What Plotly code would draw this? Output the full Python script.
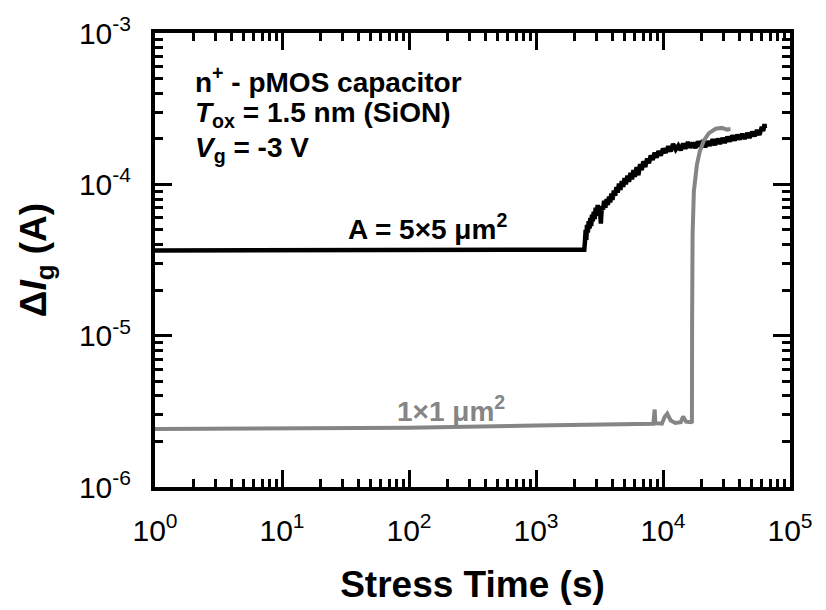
import plotly.graph_objects as go

# ---- data ----
t_5x5 = [1, 2350, 2400, 2430, 2460, 2490, 2520, 2560, 2600, 2640, 2680, 2720, 2760, 2800,
         2850, 2900, 2950, 3000, 3060, 3120, 3180, 3240, 3300, 3370, 3440, 3520, 3600, 3680,
         3760, 3840, 3920, 4000, 4100, 4200, 4300, 4400, 4500, 4620, 4740, 4860, 4980, 5100,
         5250, 5400, 5550, 5700, 5850, 6000, 6200, 6400, 6600, 6800, 7000, 7250, 7500, 7750,
         8000, 8300, 8600, 8900, 9200, 9600, 10000, 10500, 11000, 11500, 12000, 12600, 13200,
         13800, 14400, 15000, 15700, 16400, 17200, 18000, 18800, 19700, 20600, 21500, 22500,
         23500, 24600, 25700, 26900, 28100, 29400, 30700, 32100, 33600, 35100, 36700, 38400,
         40200, 42000, 44000, 46000, 48000, 50300, 52600, 55000, 57500, 60000, 61500, 63000, 63500]
ig_5x5_e5 = [3.66, 3.66, 3.70, 4.2, 5.0, 4.3, 5.4, 4.8, 5.7, 5.1, 6.0, 5.3, 6.3, 5.7,
             6.6, 5.9, 7.0, 6.2, 7.3, 6.5, 7.2, 5.5, 7.2, 6.8, 7.8, 7.0, 8.0, 7.3, 8.3, 7.6, 8.7, 7.9,
             9.1, 8.4, 9.6, 8.8, 10.1, 9.2, 10.5, 9.6, 11.0, 10.0,
             11.4, 10.4, 11.9, 10.8, 12.4, 11.2, 13.0, 11.5, 13.6, 12.4, 14.2,
             13.0, 14.8, 13.8, 15.5, 14.5, 16.2, 15.0, 16.6, 15.5, 17.2,
             16.2, 17.8, 16.5, 18.5, 17.0, 18.0, 16.8, 18.6, 17.2, 19.0,
             17.5, 18.8, 17.4, 19.2, 17.8, 19.5, 17.6, 19.2, 18.0, 19.8,
             18.2, 20.0, 18.5, 20.2, 18.8, 20.6, 19.2, 21.0, 19.5, 21.2,
             19.8, 21.5, 20.0, 21.8, 20.3, 22.2, 20.8, 22.8, 21.2, 24.0,
             22.5, 25.0, 23.5]
ig_5x5 = [v * 1e-5 for v in ig_5x5_e5]

t_1x1 = [1, 10, 100, 1000, 5000, 8400, 8600, 8700, 9800, 10300, 10800, 11500, 12500, 13800,
         14400, 15200, 16600, 16900, 16950, 17100, 17500, 18000, 18500, 19500, 21000, 23000,
         26000, 29000, 32000, 34000]
ig_1x1 = [2.42e-6, 2.43e-6, 2.46e-6, 2.55e-6, 2.60e-6, 2.62e-6, 3.25e-6, 2.64e-6, 2.62e-6,
          2.9e-6, 3.05e-6, 2.75e-6, 2.65e-6, 2.68e-6, 2.92e-6, 2.70e-6, 2.68e-6, 2.70e-6,
          1.2e-5, 4.7e-5, 9.0e-5, 1.12e-4, 1.35e-4, 1.65e-4, 1.95e-4, 2.18e-4, 2.33e-4,
          2.36e-4, 2.30e-4, 2.32e-4]

x_tickvals = [1, 10, 100, 1000, 10000, 100000]
x_ticktext = ["10<sup>0</sup>", "10<sup>1</sup>", "10<sup>2</sup>", "10<sup>3</sup>",
              "10<sup>4</sup>", "10<sup>5</sup>"]
y_tickvals = [1e-6, 1e-5, 1e-4, 1e-3]
y_ticktext = ["10<sup>-6</sup>", "10<sup>-5</sup>", "10<sup>-4</sup>", "10<sup>-3</sup>"]

x_minor = [m * 10 ** d for d in range(0, 5) for m in range(2, 10)]
y_minor = [m * 10.0 ** d for d in range(-6, -3) for m in range(2, 10)]

BLACK = "#000000"
GRAY = "#858585"
FONT = "Liberation Sans, Arial, sans-serif"

fig = go.Figure()
fig.add_trace(go.Scatter(x=t_5x5, y=ig_5x5, mode="lines",
                         line=dict(color=BLACK, width=4.5), showlegend=False))
fig.add_trace(go.Scatter(x=t_1x1, y=ig_1x1, mode="lines",
                         line=dict(color=GRAY, width=4), showlegend=False))

axis_common = dict(
    showline=True, linecolor="black", linewidth=4, mirror="ticks",
    ticks="inside", ticklen=17, tickwidth=2.5, tickcolor="black",
    showgrid=False, zeroline=False,
    tickfont=dict(family=FONT, size=30, color="black"),
)

fig.update_xaxes(type="log", range=[0, 5], tickmode="array",
                 tickvals=x_tickvals, ticktext=x_ticktext,
                 minor=dict(tickmode="array", tickvals=x_minor, ticks="inside",
                            ticklen=8, tickwidth=2.5, tickcolor="black", showgrid=False),
                 title=dict(text="<b>Stress Time (s)</b>",
                            font=dict(family=FONT, size=37, color="black"), standoff=26),
                 ticklabelstandoff=14,
                 **axis_common)
fig.update_yaxes(type="log", range=[-6, -3], tickmode="array",
                 tickvals=y_tickvals, ticktext=y_ticktext,
                 minor=dict(tickmode="array", tickvals=y_minor, ticks="inside",
                            ticklen=8, tickwidth=2.5, tickcolor="black", showgrid=False),
                 title=dict(text="<b>Δ<i>I</i><sub>g</sub> (A)</b>",
                            font=dict(family=FONT, size=37, color="black"), standoff=22),
                 ticklabelstandoff=14,
                 **axis_common)

ann_font = dict(family=FONT, size=28, color="black")
x0 = (193 - 155) / 635
for text, py in [("<b>n<sup>+</sup> - pMOS capacitor</b>", 80),
                 ("<b><i>T</i><sub>ox</sub> = 1.5 nm (SiON)</b>", 115),
                 ("<b><i>V</i><sub>g</sub> = -3 V</b>", 149)]:
    fig.add_annotation(xref="paper", yref="paper", x=x0, y=(487 - py) / 454,
                       xanchor="left", yanchor="middle", text=text,
                       showarrow=False, font=ann_font)

fig.add_annotation(x=2.142, y=-4.285, text="<b>A = 5×5 μm<sup>2</sup></b>",
                   showarrow=False, font=ann_font, xanchor="center", yanchor="middle")
fig.add_annotation(x=2.331, y=-5.483, text="<b>1×1 μm<sup>2</sup></b>",
                   showarrow=False, font=dict(family=FONT, size=28, color=GRAY),
                   xanchor="center", yanchor="middle")

fig.update_layout(
    width=826, height=610,
    margin=dict(l=155, r=36, t=33, b=123),
    paper_bgcolor="white", plot_bgcolor="white",
    font=dict(family=FONT, color="black"),
)

fig.write_html("out.html")
